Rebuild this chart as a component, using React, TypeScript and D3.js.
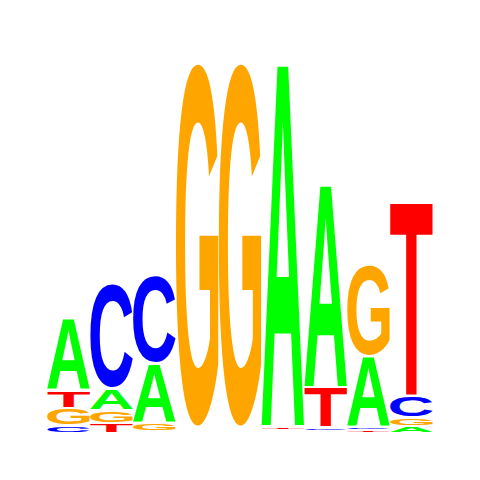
import React, { useMemo } from "react";
import * as d3 from "d3";

// Sequence logo: information content (bits) per letter per position
const positions = ["1", "2", "3", "4", "5", "6", "7", "8", "9"];
const letters = ["A", "C", "G", "T"];

const bitsA = [0.368, 0.113, 0.304, 0.011, 0.012, 1.879, 1.05, 0.3625, 0.036];
const bitsC = [0.04, 0.543, 0.455, 0.0105, 0.01, 0.009, 0.02, 0.021, 0.1125];
const bitsG = [0.0905, 0.066, 0.047, 1.891, 1.891, 0.007, 0.011, 0.474, 0.047];
const bitsT = [0.092, 0.052, 0.01, 0.0115, 0.011, 0.02, 0.208, 0.016, 1.004];

const letterColors: Record<string, string> = {
  A: "#00ff00",
  C: "#0000ff",
  G: "#ffa500",
  T: "#ff0000",
};

const WIDTH = 480;
const HEIGHT = 480;
const FONT = '"Liberation Sans", Arial, sans-serif';
const FS = 500;

type Ink = { left: number; right: number; ascent: number; descent: number };

// draw each letter on a canvas and scan the pixels for its real ink box
function measureInk(): Record<string, Ink> {
  const size = 800;
  const ox = 100;
  const oy = 600;
  const canvas = document.createElement("canvas");
  canvas.width = size;
  canvas.height = size;
  const ctx = canvas.getContext("2d", { willReadFrequently: true })!;
  const out: Record<string, Ink> = {};
  letters.forEach((l) => {
    ctx.clearRect(0, 0, size, size);
    ctx.font = `bold ${FS}px ${FONT}`;
    ctx.fillStyle = "#000";
    ctx.fillText(l, ox, oy);
    const data = ctx.getImageData(0, 0, size, size).data;
    let x0 = size, x1 = 0, y0 = size, y1 = 0;
    for (let yy = 0; yy < size; yy++) {
      for (let xx = 0; xx < size; xx++) {
        if (data[(yy * size + xx) * 4 + 3] > 127) {
          if (xx < x0) x0 = xx;
          if (xx > x1) x1 = xx;
          if (yy < y0) y0 = yy;
          if (yy > y1) y1 = yy;
        }
      }
    }
    out[l] = { left: ox - x0, right: x1 + 1 - ox, ascent: oy - y0, descent: y1 + 1 - oy };
  });
  return out;
}

export default function App() {
  const ink = useMemo(() => measureInk(), []);

  const x = d3.scaleBand().domain(positions).range([47.5, 432.5]).paddingInner(0.015);
  const y = d3.scaleLinear().domain([0, 2]).range([432, 48]);
  const gap = 2.3;

  const series: Record<string, number[]> = { A: bitsA, C: bitsC, G: bitsG, T: bitsT };

  const glyphs: JSX.Element[] = [];
  positions.forEach((pos, i) => {
    // smallest at the bottom, largest on top
    const col = letters
      .map((l) => ({ l, v: series[l][i] }))
      .sort((a, b) => a.v - b.v);
    let acc = 0;
    col.forEach(({ l, v }) => {
      const yBottom = y(acc);
      const yTop = y(acc + v);
      acc += v;
      const h = yBottom - yTop - gap;
      if (h <= 0.3) return;
      const m = ink[l];
      const bw = x.bandwidth();
      const sx = bw / (m.left + m.right);
      const sy = h / (m.ascent + m.descent);
      glyphs.push(
        <text
          key={`${pos}-${l}`}
          transform={`translate(${x(pos)},${yTop + gap}) scale(${sx},${sy}) translate(${m.left},${m.ascent})`}
          fontFamily={FONT}
          fontWeight="bold"
          fontSize={FS}
          fill={letterColors[l]}
        >
          {l}
        </text>
      );
    });
  });

  return (
    <svg
      width={WIDTH}
      height={HEIGHT}
      style={{ position: "absolute", left: 0, top: 0, background: "#fff" }}
    >
      {glyphs}
    </svg>
  );
}
